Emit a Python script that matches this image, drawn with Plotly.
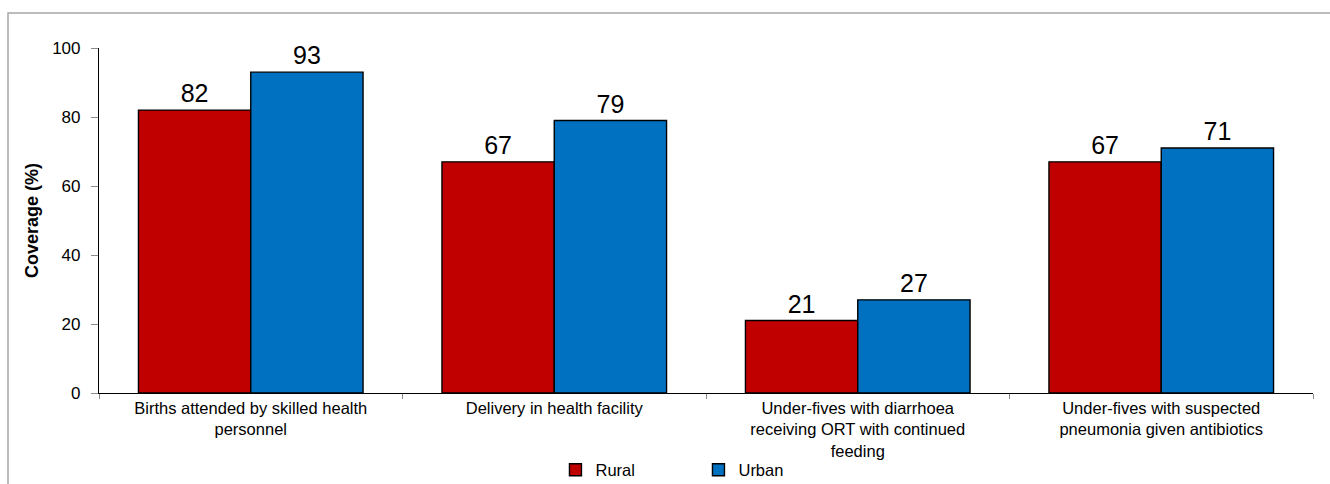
import plotly.graph_objects as go

# Coverage indicators, rural vs urban (%)
categories = [
    "Births attended by skilled health<br>personnel",
    "Delivery in health facility",
    "Under-fives with diarrhoea<br>receiving ORT with continued<br>feeding",
    "Under-fives with suspected<br>pneumonia given antibiotics",
]
rural = [82, 67, 21, 67]
urban = [93, 79, 27, 71]

series_names = ["Rural", "Urban"]
series_colors = ["#C00000", "#0070C0"]

W, H = 1330, 484
L, R, T, B = 99, 17, 48, 91
pw = W - L - R
ph = H - T - B

FONT = "Liberation Sans, Arial, sans-serif"

fig = go.Figure()

for name, vals, color in zip(series_names, [rural, urban], series_colors):
    fig.add_trace(go.Bar(
        x=categories, y=vals, name=name, offsetgroup=name,
        marker=dict(color=color, line=dict(color="#000000", width=1.4)),
        hoverinfo="skip",
    ))

# value labels, grouped to sit over their bars
for name, vals in zip(series_names, [rural, urban]):
    fig.add_trace(go.Scatter(
        x=categories, y=vals, offsetgroup=name, mode="markers+text",
        text=[str(v) for v in vals], textposition="top center",
        textfont=dict(family=FONT, size=25, color="#000000"),
        marker=dict(size=1, color="rgba(0,0,0,0)"),
        showlegend=False, hoverinfo="skip", cliponaxis=False,
    ))

fig.update_layout(
    width=W, height=H,
    margin=dict(l=L, r=R, t=T, b=B, autoexpand=False),
    paper_bgcolor="#ffffff", plot_bgcolor="#ffffff",
    barmode="group", bargap=0.26, bargroupgap=0,
    scattermode="group", scattergap=0.26,
    font=dict(family=FONT, color="#000000"),
    showlegend=True,
    legend=dict(
        orientation="h", x=0.376, y=(393 - 470) / ph,
        xanchor="left", yanchor="middle",
        font=dict(size=16.5, color="#000000"),
        entrywidth=98, entrywidthmode="pixels",
        itemwidth=30, tracegroupgap=0,
        bgcolor="rgba(0,0,0,0)",
    ),
    xaxis=dict(
        type="category", showline=True, linecolor="#000000", linewidth=1.2,
        ticks="outside", tickson="boundaries", ticklen=5, tickcolor="#8c8c8c",
        tickfont=dict(size=16.5, color="#000000"), showgrid=False, zeroline=False,
        fixedrange=True,
    ),
    yaxis=dict(
        range=[0, 100], dtick=20, showline=True, linecolor="#000000", linewidth=1.2,
        ticks="outside", ticklen=7, tickcolor="#8c8c8c", ticklabelstandoff=7,
        tickfont=dict(size=17, color="#000000"), showgrid=False, zeroline=False,
        title=dict(text="<b>Coverage (%)</b>", font=dict(size=18, color="#000000"), standoff=8),
        automargin=False, fixedrange=True,
    ),
    shapes=[dict(
        type="rect", xref="paper", yref="paper",
        x0=(8 - L) / pw, x1=1.2, y0=-1.0, y1=(T + ph - 13) / ph,
        line=dict(color="#a6a6a6", width=1.5), fillcolor="rgba(0,0,0,0)", layer="below",
    )],
)

fig.write_html("out.html")
